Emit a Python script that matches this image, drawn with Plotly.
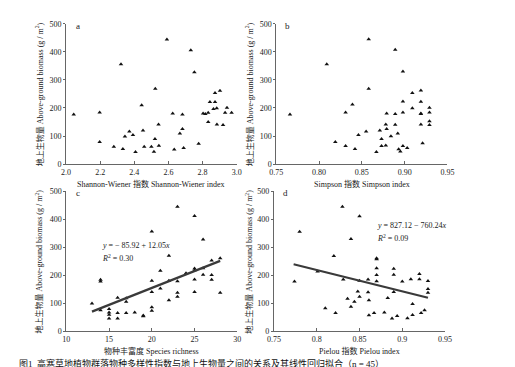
import plotly.graph_objects as go

# ---------------- data ----------------
shannon_x = [2.045, 2.197, 2.197, 2.280, 2.322, 2.333, 2.345, 2.371, 2.392, 2.407, 2.443, 2.451, 2.458, 2.500,
             2.515, 2.521, 2.523, 2.542, 2.544, 2.591, 2.625, 2.634, 2.667, 2.682, 2.682, 2.689, 2.731, 2.752,
             2.777, 2.803, 2.816, 2.833, 2.833, 2.843, 2.864, 2.873, 2.873, 2.883, 2.884, 2.902, 2.920, 2.932,
             2.943, 2.970]
shannon_y = [177, 184, 79, 62, 356, 54, 98, 116, 104, 43, 210, 120, 62, 62, 44, 89, 268, 141, 65, 444,
             180, 52, 109, 125, 177, 57, 405, 327, 72, 180, 178, 150, 183, 221, 196, 253, 221, 199, 141, 261,
             139, 183, 201, 183]

simpson_x = [0.766, 0.809, 0.819, 0.831, 0.831, 0.839, 0.842, 0.846, 0.855, 0.858, 0.858, 0.867, 0.871, 0.873,
             0.873, 0.878, 0.878, 0.879, 0.879, 0.884, 0.889, 0.889, 0.889, 0.892, 0.893, 0.895, 0.898, 0.898,
             0.898, 0.898, 0.903, 0.909, 0.909, 0.919, 0.919, 0.919, 0.919, 0.919, 0.921, 0.929, 0.929, 0.929,
             0.929]
simpson_y = [177, 356, 79, 64, 184, 212, 54, 104, 116, 445, 268, 43, 120, 64, 89, 66, 141, 125, 180, 99,
             407, 178, 140, 109, 53, 45, 330, 223, 184, 64, 57, 253, 199, 262, 222, 180, 178, 141, 74, 201,
             184, 153, 139]

rich_x = [13, 14, 14, 14, 15, 15, 15, 15, 16, 16, 16, 17, 17, 17, 18, 19, 19, 20, 20, 20, 20, 20, 21, 21,
          22, 22, 22, 23, 23, 23, 23, 24, 25, 25, 25, 25, 25, 26, 26, 26, 27, 27, 27, 28, 28]
rich_y = [100, 76, 184, 178, 80, 68, 60, 46, 120, 66, 46, 118, 106, 66, 68, 57, 54, 356, 181, 141, 86, 74,
          216, 153, 270, 181, 111, 444, 179, 138, 124, 207, 411, 224, 218, 185, 141, 328, 225, 202, 253, 201,
          184, 261, 138]

pielou_x = [0.774, 0.780, 0.801, 0.810, 0.820, 0.822, 0.830, 0.831, 0.836, 0.840, 0.840, 0.844, 0.848, 0.850,
            0.850, 0.850, 0.860, 0.860, 0.861, 0.861, 0.867, 0.870, 0.870, 0.870, 0.870, 0.870, 0.879, 0.883,
            0.888, 0.890, 0.890, 0.890, 0.894, 0.900, 0.906, 0.910, 0.912, 0.912, 0.920, 0.920, 0.922, 0.926,
            0.930, 0.930, 0.930]
pielou_y = [178, 355, 214, 83, 269, 66, 444, 185, 117, 329, 88, 106, 142, 410, 181, 124, 185, 140, 111, 58,
            66, 261, 257, 225, 201, 179, 68, 119, 46, 223, 202, 141, 55, 178, 47, 186, 98, 59, 205, 186,
            66, 76, 180, 151, 138]

# regression coefficients printed on the chart
rich_fit = (-85.92, 12.05)
rich_fit_range = [13, 28]
pielou_fit = (827.12, -760.24)
pielou_fit_range = [0.773, 0.93]

y_ticks = [0, 100, 200, 300, 400, 500]
a_ticks = [2.0, 2.2, 2.4, 2.6, 2.8, 3.0]
a_ticktext = ["2.0", "2.2", "2.4", "2.6", "2.8", "3.0"]
b_ticks = [0.75, 0.80, 0.85, 0.90, 0.95]
b_ticktext = ["0.75", "0.80", "0.85", "0.90", "0.95"]
c_ticks = [10, 15, 20, 25, 30]
c_ticktext = ["10", "15", "20", "25", "30"]
d_ticks = [0.75, 0.80, 0.85, 0.90, 0.95]
d_ticktext = ["0.75", "0.8", "0.85", "0.9", "0.95"]

x_titles = ["Shannon-Wiener 指数 Shannon-Wiener index", "Simpson 指数 Simpson index",
            "物种丰富度 Species richness", "Pielou 指数 Pielou index"]
y_title = "地上生物量 Above-ground biomass (g / m<sup>2</sup>)"
panel_letters = ["a", "b", "c", "d"]
eq_c = ["<i>y</i> = − 85.92 + 12.05<i>x</i>", "<i>R</i><sup>2</sup> = 0.30"]
eq_d = ["<i>y</i> = 827.12 − 760.24<i>x</i>", "<i>R</i><sup>2</sup> = 0.09"]
caption = "图1  高寒草地植物群落物种多样性指数与地上生物量之间的关系及其线性回归拟合（n = 45）"

# ---------------- layout helpers ----------------
# the page body has an 8 px margin, so the figure is placed at (8, 8)
OFF = 8
W, H = 515 - OFF, 367 - OFF
FONT = "Liberation Serif, Times New Roman, Noto Sans CJK SC, serif"
TXT = "#1a1a1a"


def px_x(p):
    return (p - OFF) / W


def px_y(p):
    return 1 - (p - OFF) / H


panels = {
    # (x_left_px, x_right_px, y_top_px, y_bottom_px) in page pixels
    "a": (60.5, 236.0, 20.0, 164.0),
    "b": (276.7, 452.7, 20.0, 164.0),
    "c": (60.8, 236.6, 191.7, 335.7),
    "d": (274.3, 450.3, 191.7, 335.7),
}
ranges = {"a": [2.0, 3.0], "b": [0.75, 0.95], "c": [10, 30], "d": [0.75, 0.95]}
ticks = {"a": (a_ticks, a_ticktext), "b": (b_ticks, b_ticktext),
         "c": (c_ticks, c_ticktext), "d": (d_ticks, d_ticktext)}
datasets = {"a": (shannon_x, shannon_y), "b": (simpson_x, simpson_y),
            "c": (rich_x, rich_y), "d": (pielou_x, pielou_y)}

fig = go.Figure()
layout = dict(width=W, height=H, margin=dict(l=0, r=0, t=0, b=0),
              paper_bgcolor="white", plot_bgcolor="white", showlegend=False,
              font=dict(family=FONT, size=8, color=TXT))
annotations = []

for i, key in enumerate(["a", "b", "c", "d"]):
    n = "" if i == 0 else str(i + 1)
    xl, xr, yt, yb = panels[key]
    tv, tt = ticks[key]
    layout["xaxis" + n] = dict(domain=[px_x(xl), px_x(xr)], range=ranges[key], anchor="y" + n,
                               showgrid=False, zeroline=False, showline=True, linecolor="#666",
                               linewidth=1, ticks="inside", ticklen=3, tickcolor="#666",
                               tickvals=tv, ticktext=tt, tickfont=dict(family=FONT, size=8, color=TXT))
    layout["yaxis" + n] = dict(domain=[px_y(yb), px_y(yt)], range=[0, 500], anchor="x" + n,
                               showgrid=False, zeroline=False, showline=True, linecolor="#666",
                               linewidth=1, ticks="outside", ticklen=2, tickcolor="#666",
                               tickvals=y_ticks, tickfont=dict(family=FONT, size=8, color=TXT))
    xs, ys = datasets[key]
    fig.add_trace(go.Scatter(x=xs, y=ys, mode="markers", xaxis="x" + n, yaxis="y" + n,
                             marker=dict(symbol="triangle-up", size=4, color="#111",
                                         line=dict(width=0))))
    # x title
    annotations.append(dict(text=x_titles[i], x=px_x((xl + xr) / 2), y=px_y(yb + 20),
                            xref="paper", yref="paper", showarrow=False,
                            xanchor="center", yanchor="middle", font=dict(family=FONT, size=8, color=TXT)))
    # y title
    ytx = 33 if key in ("a", "c") else 249
    annotations.append(dict(text=y_title, x=px_x(ytx), y=px_y((yt + yb) / 2),
                            xref="paper", yref="paper", showarrow=False, textangle=-90,
                            xanchor="center", yanchor="middle", font=dict(family=FONT, size=8, color=TXT)))
    # panel letter
    annotations.append(dict(text=panel_letters[i], x=px_x(xl + 12), y=px_y(yt + 2),
                            xref="paper", yref="paper", showarrow=False,
                            xanchor="center", yanchor="middle", font=dict(family=FONT, size=9, color=TXT)))

# regression lines
for key, n, (b0, b1), xr in [("c", "3", rich_fit, rich_fit_range), ("d", "4", pielou_fit, pielou_fit_range)]:
    fig.add_trace(go.Scatter(x=xr, y=[b0 + b1 * v for v in xr], mode="lines",
                             xaxis="x" + n, yaxis="y" + n,
                             line=dict(color="#3a3a3a", width=2.2)))

# equations
for (tx, ty), txt in zip([(95, 248), (95, 260)], eq_c):
    annotations.append(dict(text=txt, x=px_x(tx), y=px_y(ty), xref="paper", yref="paper",
                            showarrow=False, xanchor="left", yanchor="middle",
                            font=dict(family=FONT, size=8, color=TXT)))
for (tx, ty), txt in zip([(378, 227), (378, 240)], eq_d):
    annotations.append(dict(text=txt, x=px_x(tx), y=px_y(ty), xref="paper", yref="paper",
                            showarrow=False, xanchor="left", yanchor="middle",
                            font=dict(family=FONT, size=8, color=TXT)))

# caption (cut off at the bottom edge, as in the source)
annotations.append(dict(text=caption, x=px_x(2 + OFF), y=px_y(361), xref="paper", yref="paper",
                        showarrow=False, xanchor="left", yanchor="top",
                        font=dict(family=FONT, size=9, color="#111")))

layout["annotations"] = annotations
fig.update_layout(**layout)
fig.write_html("out.html")
